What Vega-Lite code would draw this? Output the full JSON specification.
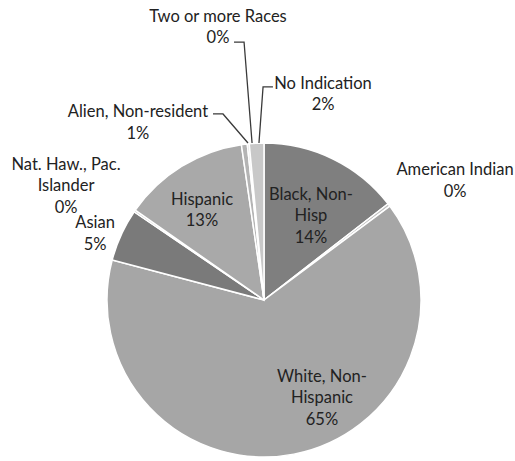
{
  "$schema": "https://vega.github.io/schema/vega-lite/v6.json",
  "width": 314,
  "height": 314,
  "autosize": "none",
  "padding": {"left": 107, "top": 143, "right": 94, "bottom": 4},
  "background": "white",
  "config": {"view": {"stroke": null}},
  "datasets": {
    "slices": [
      {"category": "Black, Non-Hisp", "share": 14.5, "rank": 1},
      {"category": "American Indian", "share": 0.3, "rank": 2},
      {"category": "White, Non-Hispanic", "share": 64.3, "rank": 3},
      {"category": "Asian", "share": 5.4, "rank": 4},
      {"category": "Nat. Haw., Pac. Islander", "share": 0.2, "rank": 5},
      {"category": "Hispanic", "share": 13.0, "rank": 6},
      {"category": "Alien, Non-resident", "share": 0.6, "rank": 7},
      {"category": "Two or more Races", "share": 0.2, "rank": 8},
      {"category": "No Indication", "share": 1.5, "rank": 9}
    ],
    "labels": [
      {"category": "Black, Non-Hisp", "text": "Black, Non-\nHisp\n14%", "x": 0.299, "y": 0.669},
      {"category": "American Indian", "text": "American Indian\n0%", "x": 1.217, "y": 0.828},
      {"category": "White, Non-Hispanic", "text": "White, Non-\nHispanic\n65%", "x": 0.369, "y": -0.49},
      {"category": "Asian", "text": "Asian\n5%", "x": -1.076, "y": 0.49},
      {"category": "Nat. Haw., Pac. Islander", "text": "Nat. Haw., Pac.\nIslander\n0%", "x": -1.261, "y": 0.86},
      {"category": "Hispanic", "text": "Hispanic\n13%", "x": -0.395, "y": 0.637},
      {"category": "Alien, Non-resident", "text": "Alien, Non-resident\n1%", "x": -0.803, "y": 1.197},
      {"category": "Two or more Races", "text": "Two or more Races\n0%", "x": -0.293, "y": 1.803},
      {"category": "No Indication", "text": "No Indication\n2%", "x": 0.376, "y": 1.376}
    ],
    "leaders": [
      {"category": "Two or more Races", "step": 1, "x": -0.191, "y": 1.643},
      {"category": "Two or more Races", "step": 2, "x": -0.127, "y": 1.643},
      {"category": "Two or more Races", "step": 3, "x": -0.076, "y": 1.0},
      {"category": "No Indication", "step": 1, "x": 0.057, "y": 1.357},
      {"category": "No Indication", "step": 2, "x": -0.006, "y": 1.357},
      {"category": "No Indication", "step": 3, "x": -0.032, "y": 1.0},
      {"category": "Alien, Non-resident", "step": 1, "x": -0.325, "y": 1.185},
      {"category": "Alien, Non-resident", "step": 2, "x": -0.261, "y": 1.185},
      {"category": "Alien, Non-resident", "step": 3, "x": -0.102, "y": 1.0}
    ]
  },
  "layer": [
    {
      "data": {"name": "slices"},
      "mark": {"type": "arc", "stroke": "white", "strokeWidth": 1.5},
      "encoding": {
        "theta": {"field": "share", "type": "quantitative", "stack": true},
        "order": {"field": "rank", "type": "quantitative"},
        "color": {
          "field": "category",
          "type": "nominal",
          "scale": {
            "domain": ["Black, Non-Hisp", "American Indian", "White, Non-Hispanic", "Asian", "Nat. Haw., Pac. Islander", "Hispanic", "Alien, Non-resident", "Two or more Races", "No Indication"],
            "range": ["#7f7f7f", "#c0c0c0", "#a6a6a6", "#7a7a7a", "#bdbdbd", "#a9a9a9", "#b4b4b4", "#d0d0d0", "#c8c8c8"]
          },
          "legend": null
        }
      }
    },
    {
      "data": {"name": "leaders"},
      "mark": {"type": "line", "stroke": "#3a3a3a", "strokeWidth": 1.3},
      "encoding": {
        "x": {"field": "x", "type": "quantitative", "scale": {"domain": [-1, 1], "nice": false, "zero": false}, "axis": null},
        "y": {"field": "y", "type": "quantitative", "scale": {"domain": [-1, 1], "nice": false, "zero": false}, "axis": null},
        "detail": {"field": "category", "type": "nominal"},
        "order": {"field": "step", "type": "quantitative"}
      }
    },
    {
      "data": {"name": "labels"},
      "mark": {"type": "text", "font": "Lato", "fontSize": 16.5, "lineHeight": 21.5, "lineBreak": "\n", "fill": "#222222", "align": "center", "baseline": "middle"},
      "encoding": {
        "x": {"field": "x", "type": "quantitative", "scale": {"domain": [-1, 1], "nice": false, "zero": false}, "axis": null},
        "y": {"field": "y", "type": "quantitative", "scale": {"domain": [-1, 1], "nice": false, "zero": false}, "axis": null},
        "text": {"field": "text", "type": "nominal"}
      }
    }
  ]
}
